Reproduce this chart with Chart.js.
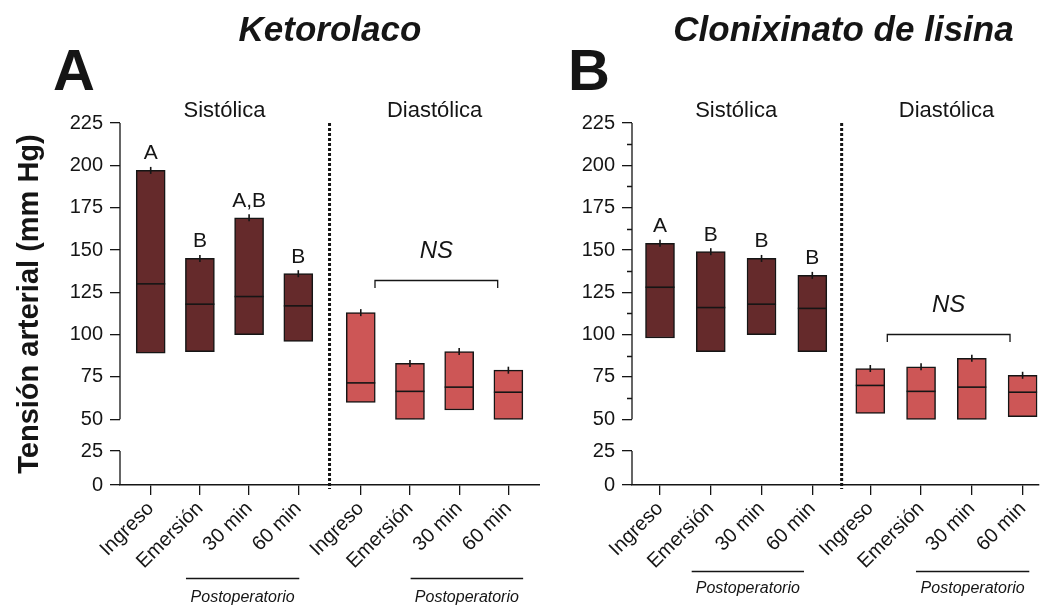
<!DOCTYPE html>
<html lang="es">
<head>
<meta charset="utf-8">
<title>Tensión arterial: Ketorolaco vs Clonixinato de lisina</title>
<script src="https://cdn.jsdelivr.net/npm/chart.js@4.4.1/dist/chart.umd.min.js"></script>
<style>
  html, body { margin: 0; padding: 0; background: #fff; }
  .panel { position: absolute; top: 0; height: 609px; }
  #panelA { left: 0; width: 540px; }
  #panelB { left: 540px; width: 500px; }
</style>
</head>
<body>
<div class="panel" id="panelA"><canvas id="chartA"></canvas></div>
<div class="panel" id="panelB"><canvas id="chartB"></canvas></div>
<script>
/* ===== Datos (mm Hg) ===== */
const categories = ['Ingreso', 'Emersión', '30 min', '60 min'];
const yTickValues = [0, 25, 50, 75, 100, 125, 150, 175, 200, 225];

// A: Ketorolaco
const ketSisMin = [89, 90, 100, 96];
const ketSisMed = [130, 118, 122.5, 117];
const ketSisMax = [197, 145, 169, 136];
const ketDiaMin = [60, 50, 55.5, 50];
const ketDiaMed = [71.5, 66.5, 69, 66];
const ketDiaMax = [113, 83, 90, 79];
const ketLetters = ['A', 'B', 'A,B', 'B'];

// B: Clonixinato de lisina
const cloSisMin = [98, 90, 100, 90];
const cloSisMed = [128, 116, 118, 115.5];
const cloSisMax = [154, 149, 145, 135];
const cloDiaMin = [53.5, 50, 50, 51.5];
const cloDiaMed = [70, 66.5, 69, 66];
const cloDiaMax = [80, 81, 86, 76];
const cloLetters = ['A', 'B', 'B', 'B'];

/* ===== Estilo global ===== */
const FONT = "'Liberation Sans', Arial, Helvetica, sans-serif";
Chart.defaults.font.family = FONT;
Chart.defaults.color = '#111';

const COLOR_SIS = '#652a2b';
const COLOR_DIA = '#cd5656';
const INK = '#151515';

/* ===== Eje Y con corte: 0–25 abajo, 50–225 arriba ===== */
class BrokenLinearScale extends Chart.LinearScale {
  _cutDecimal(value) {
    const c = this.options.cut;
    if (value <= c.low) return (value - this.min) / (c.low - this.min) * c.lowFrac;
    if (value >= c.high) {
      return c.lowFrac + c.gapFrac + (value - c.high) / (this.max - c.high) * (1 - c.lowFrac - c.gapFrac);
    }
    return c.lowFrac + (value - c.low) / (c.high - c.low) * c.gapFrac;
  }
  getPixelForValue(value) {
    return this.getPixelForDecimal(this._cutDecimal(value));
  }
  getValueForPixel(pixel) {
    const c = this.options.cut;
    const d = this.getDecimalForPixel(pixel);
    if (d <= c.lowFrac) return this.min + d / c.lowFrac * (c.low - this.min);
    if (d >= c.lowFrac + c.gapFrac) {
      return c.high + (d - c.lowFrac - c.gapFrac) / (1 - c.lowFrac - c.gapFrac) * (this.max - c.high);
    }
    return c.low + (d - c.lowFrac) / c.gapFrac * (c.high - c.low);
  }
}
BrokenLinearScale.id = 'brokenLinear';
BrokenLinearScale.defaults = {};
Chart.register(BrokenLinearScale);

/* ===== Decoración: eje partido, divisor, letras, NS, títulos ===== */
function decorPlugin(p, sisX, diaX) {
  return {
    id: 'decor',
    afterDraw(chart) {
      const { ctx, chartArea: area, scales: { x, y } } = chart;
      ctx.save();
      ctx.strokeStyle = INK;
      ctx.fillStyle = INK;

      // eje Y en dos tramos
      ctx.lineWidth = 1.3;
      ctx.beginPath();
      ctx.moveTo(area.left, y.getPixelForValue(225));
      ctx.lineTo(area.left, y.getPixelForValue(50));
      ctx.moveTo(area.left, y.getPixelForValue(25));
      ctx.lineTo(area.left, y.getPixelForValue(0));
      // marcas menores (solo panel B)
      if (p.minorTicks) {
        for (let v = 62.5; v < 225; v += 25) {
          const py = Math.round(y.getPixelForValue(v)) + 0.5;
          ctx.moveTo(area.left - 5, py);
          ctx.lineTo(area.left, py);
        }
      }
      ctx.stroke();

      // divisor punteado Sistólica | Diastólica
      const xd = x.getPixelForValue(p.dividerX);
      ctx.lineWidth = 3;
      ctx.setLineDash([3, 2]);
      ctx.beginPath();
      ctx.moveTo(xd, area.top);
      ctx.lineTo(xd, area.bottom + 4);
      ctx.stroke();
      ctx.setLineDash([]);

      // letras de significancia sobre las barras sistólicas
      ctx.font = '21px ' + FONT;
      ctx.textAlign = 'center';
      ctx.textBaseline = 'alphabetic';
      p.letters.forEach((t, i) => {
        ctx.fillText(t, x.getPixelForValue(sisX[i]), y.getPixelForValue(p.sisMax[i]) - 11);
      });

      // corchete NS sobre las diastólicas
      const b = p.bracket;
      const bx0 = x.getPixelForValue(b.x0);
      const bx1 = x.getPixelForValue(b.x1);
      const by = Math.round(y.getPixelForValue(b.y)) + 0.5;
      ctx.lineWidth = 1.3;
      ctx.beginPath();
      ctx.moveTo(bx0, by + 7.5);
      ctx.lineTo(bx0, by);
      ctx.lineTo(bx1, by);
      ctx.lineTo(bx1, by + 7.5);
      ctx.stroke();
      ctx.font = 'italic 24px ' + FONT;
      ctx.fillText('NS', (bx0 + bx1) / 2, y.getPixelForValue(b.labelY));

      // encabezados de grupo
      ctx.font = '22px ' + FONT;
      const mid = (a, c) => (x.getPixelForValue(a) + x.getPixelForValue(c)) / 2;
      ctx.fillText('Sistólica', mid(sisX[1], sisX[2]), area.top - 6);
      ctx.fillText('Diastólica', mid(diaX[1], diaX[2]), area.top - 6);

      // Postoperatorio
      ctx.lineWidth = 1.3;
      ctx.font = 'italic 16px ' + FONT;
      p.post.forEach(([a, c]) => {
        const x0 = x.getPixelForValue(a);
        const x1 = x.getPixelForValue(c);
        const ly = Math.round(area.bottom + p.postLineDy) + 0.5;
        ctx.beginPath();
        ctx.moveTo(x0, ly);
        ctx.lineTo(x1, ly);
        ctx.stroke();
        ctx.fillText('Postoperatorio', (x0 + x1) / 2, area.bottom + p.postTextDy);
      });

      // título del fármaco y letra del panel
      ctx.font = 'italic bold 35px ' + FONT;
      ctx.fillText(p.title.text, p.title.x, p.title.y);
      ctx.font = 'bold 58px ' + FONT;
      ctx.fillText(p.letter.text, p.letter.x, p.letter.y);

      ctx.restore();
    }
  };
}

/* ===== Panel ===== */
function buildPanel(canvasId, p) {
  const sisX = categories.map((_, i) => i + 1);
  const diaX = categories.map((_, i) => i + 1 + categories.length + p.gap);
  const tickX = sisX.concat(diaX);
  const tickLabels = categories.concat(categories);

  const range = (xs, lo, hi) => xs.map((x, i) => ({ x: x, y: [lo[i], hi[i]] }));
  const points = (xs, v) => xs.map((x, i) => ({ x: x, y: v[i] }));

  const barStyle = {
    type: 'bar',
    borderColor: INK,
    borderWidth: 1.5,
    borderSkipped: false,
    barThickness: 29,
    grouped: false,
    order: 3,
  };

  new Chart(document.getElementById(canvasId), {
    type: 'bar',
    data: {
      datasets: [
        Object.assign({ label: 'Sistólica', data: range(sisX, p.sisMin, p.sisMax), backgroundColor: COLOR_SIS }, barStyle),
        Object.assign({ label: 'Diastólica', data: range(diaX, p.diaMin, p.diaMax), backgroundColor: COLOR_DIA }, barStyle),
        {
          type: 'scatter',
          label: 'Mediana',
          data: points(sisX, p.sisMed).concat(points(diaX, p.diaMed)),
          pointStyle: 'line',
          pointRadius: 14.5,
          pointBorderColor: INK,
          pointBorderWidth: 1.6,
          order: 1,
        },
        {
          type: 'scatter',
          label: 'Máximo',
          data: points(sisX, p.sisMax).concat(points(diaX, p.diaMax)),
          pointStyle: 'line',
          pointRotation: 90,
          pointRadius: 3.5,
          pointBorderColor: INK,
          pointBorderWidth: 1.6,
          order: 0,
        },
      ]
    },
    options: {
      responsive: true,
      maintainAspectRatio: false,
      animation: false,
      events: [],
      layout: {
        autoPadding: false,
        padding: { top: 123, left: 0, right: p.padRight, bottom: 0 },
      },
      plugins: {
        legend: { display: false },
        tooltip: { enabled: false },
      },
      scales: {
        x: {
          type: 'linear',
          min: p.xMin,
          max: p.xMax,
          bounds: 'data',
          offset: false,
          grid: { drawOnChartArea: false, offset: false, tickLength: 10, color: INK, lineWidth: 1.3 },
          border: { display: true, color: INK, width: 1.5 },
          afterBuildTicks: (s) => { s.ticks = tickX.map(v => ({ value: v })); },
          ticks: {
            autoSkip: false,
            minRotation: 45,
            maxRotation: 45,
            padding: 2,
            color: INK,
            font: { size: 20 },
            callback: (v, i) => tickLabels[i],
          },
          afterFit: (s) => {
            s.height = 124;
            s.paddingLeft = 0;
            s.paddingRight = 0;
          },
        },
        y: {
          type: 'brokenLinear',
          min: 0,
          max: 225,
          bounds: 'data',
          cut: { low: 25, high: 50, lowFrac: 0.0939, gapFrac: 0.0876 },
          grid: { drawOnChartArea: false, tickLength: 10, color: INK, lineWidth: 1.3 },
          border: { display: false },
          afterBuildTicks: (s) => { s.ticks = yTickValues.map(v => ({ value: v })); },
          ticks: {
            padding: 7,
            color: INK,
            font: { size: 20 },
            callback: (v) => String(v),
          },
          title: {
            display: !!p.yTitle,
            text: p.yTitle || '',
            color: INK,
            font: { size: 29, weight: 'bold' },
            padding: { top: 12.6, bottom: 0 },
          },
          afterFit: (s) => {
            s.width = p.axisWidth;
            s.paddingTop = 0;
            s.paddingBottom = 0;
          },
        }
      }
    },
    plugins: [decorPlugin(p, sisX, diaX)]
  });
}

buildPanel('chartA', {
  sisMin: ketSisMin, sisMed: ketSisMed, sisMax: ketSisMax,
  diaMin: ketDiaMin, diaMed: ketDiaMed, diaMax: ketDiaMax,
  letters: ketLetters,
  gap: 0.27, xMin: 0.376, xMax: 8.913, axisWidth: 120, padRight: 0,
  dividerX: 4.635,
  bracket: { x0: 5.559, x1: 8.053, y: 132.2, labelY: 145.4 },
  post: [[1.717, 4.02], [6.283, 8.57]], postLineDy: 92.7, postTextDy: 116.5,
  title: { text: 'Ketorolaco', x: 330, y: 41 },
  letter: { text: 'A', x: 74, y: 90 },
  yTitle: 'Tensión arterial (mm Hg)',
  minorTicks: false,
});

buildPanel('chartB', {
  sisMin: cloSisMin, sisMed: cloSisMed, sisMax: cloSisMax,
  diaMin: cloDiaMin, diaMed: cloDiaMed, diaMax: cloDiaMax,
  letters: cloLetters,
  gap: 0.142, xMin: 0.4485, xMax: 8.465, axisWidth: 92, padRight: 1,
  dividerX: 4.578,
  bracket: { x0: 5.477, x1: 7.894, y: 100.6, labelY: 113.1 },
  post: [[1.624, 3.836], [6.042, 8.274]], postLineDy: 85.5, postTextDy: 107.5,
  title: { text: 'Clonixinato de lisina', x: 303.5, y: 41 },
  letter: { text: 'B', x: 49, y: 90 },
  yTitle: null,
  minorTicks: true,
});
</script>
</body>
</html>
